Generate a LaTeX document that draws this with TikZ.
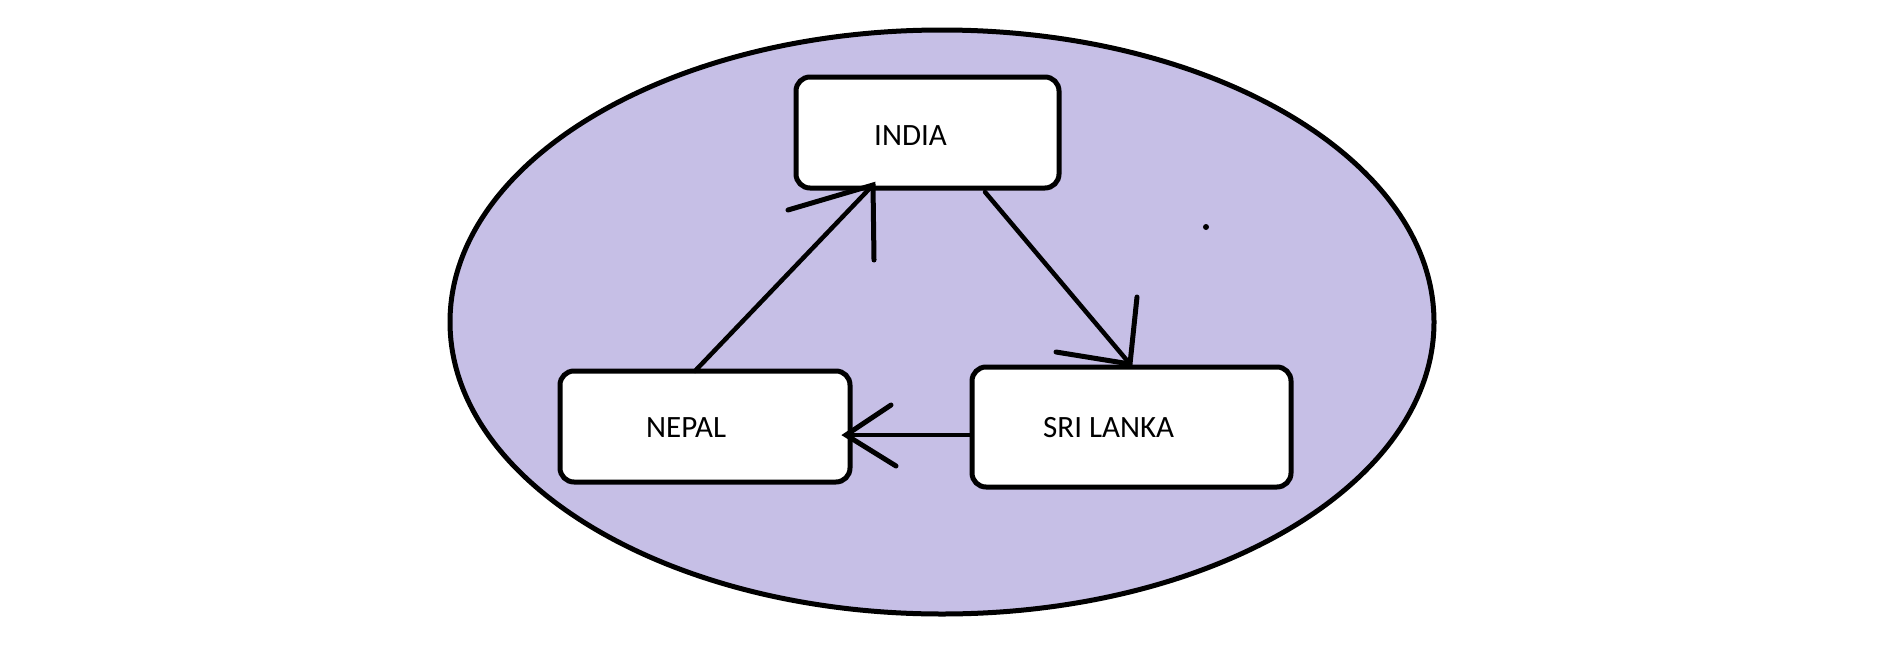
\documentclass[tikz,border=0pt]{standalone}
\usepackage{fontspec}
\setmainfont{Carlito}
\usetikzlibrary{shapes.geometric}
\definecolor{lav}{RGB}{198,191,230}
\begin{document}
\begin{tikzpicture}[x=1pt,y=-1pt,
  boxstyle/.style={draw=black, line width=5pt, fill=white, rounded corners=14pt, inner sep=0pt},
  lbl/.style={inner sep=0pt, font=\fontsize{31}{33}\selectfont},
  conn/.style={draw=black, line width=4.5pt, line cap=round},
  barb/.style={draw=black, line width=5pt, line cap=round}]
\useasboundingbox (0,0) rectangle (1879,648);
\fill[white] (0,0) rectangle (1879,648);
\node[draw=black, line width=5pt, fill=lav, ellipse, minimum width=984pt, minimum height=584pt, inner sep=0pt] (oval) at (942,322) {};
% boxes
\node[boxstyle, minimum width=263pt, minimum height=111pt] (india) at (927.5,132.5) {};
\node[boxstyle, minimum width=290pt, minimum height=111pt] (nepal) at (705,426.5) {};
\node[boxstyle, minimum width=319pt, minimum height=120pt] (srilanka) at (1131.5,427) {};
% labels
\node[lbl, anchor=base west] (tindia) at (874,145) {INDIA};
\node[lbl, anchor=base west] (tnepal) at (646,437) {NEPAL};
\node[lbl, anchor=base west] (tsri) at (1043,437) {SRI LANKA};
% arrow Nepal -> India
\coordinate (a1s) at (695,371);
\coordinate (a1t) at (873,185);
\coordinate (a1b1) at (788,210);
\coordinate (a1b2) at (874,260);
\draw[conn] (a1s) -- (a1t);
\draw[barb] (a1b1) -- (a1t) -- (a1b2);
% arrow India -> Sri Lanka
\coordinate (a2s) at (985,192);
\coordinate (a2t) at (1130,364);
\coordinate (a2b1) at (1056,352);
\coordinate (a2b2) at (1137,297);
\draw[conn] (a2s) -- (a2t);
\draw[barb] (a2b1) -- (a2t) -- (a2b2);
% arrow Sri Lanka -> Nepal
\coordinate (a3s) at (970,435);
\coordinate (a3t) at (846,435);
\coordinate (a3b1) at (891,405);
\coordinate (a3b2) at (896,466);
\draw[conn] (a3s) -- (a3t);
\draw[barb] (a3b1) -- (a3t) -- (a3b2);
% stray dot
\fill[black] (1206,227) circle (3pt);
\end{tikzpicture}
\end{document}
